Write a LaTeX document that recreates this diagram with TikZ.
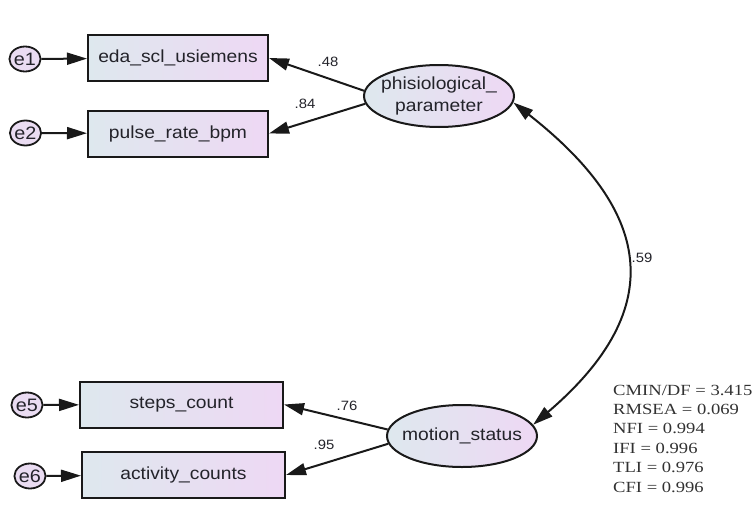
\documentclass[tikz,border=0pt]{standalone}
\usepackage{fontspec}
\setmainfont{Liberation Sans}
\newfontfamily\amos[FakeStretch=1.1]{Liberation Sans}
\newfontfamily\fitfont[FakeStretch=1.2]{Liberation Serif}
\usetikzlibrary{arrows.meta,shapes.geometric}
\definecolor{gl}{RGB}{222,232,238}
\definecolor{gr}{RGB}{238,216,244}
\definecolor{efill}{RGB}{234,220,242}
\definecolor{ink}{RGB}{25,25,25}
\definecolor{txt}{RGB}{35,35,42}
\definecolor{fittxt}{RGB}{50,50,50}
\begin{document}
\begin{tikzpicture}[x=1pt,y=-1pt,
  obs/.style={draw=ink, line width=2pt, left color=gl, right color=gr,
    minimum height=46pt, inner sep=0pt,
    font=\amos\fontsize{17.5}{20}\selectfont, text=txt},
  lat/.style={ellipse, draw=ink, line width=2pt, left color=gl, right color=gr,
    minimum width=150pt, minimum height=62pt, inner sep=0pt},
  lattxt/.style={font=\amos\fontsize{17.5}{22}\selectfont, text=txt, align=center, inner sep=0pt},
  err/.style={ellipse, draw=ink, line width=1.8pt, fill=efill,
    minimum width=31pt, minimum height=25pt, inner sep=0pt,
    font=\amos\fontsize{18}{20}\selectfont, text=txt},
  coef/.style={font=\amos\fontsize{13.5}{15}\selectfont, text=txt, inner sep=0pt},
  fit/.style={font=\fitfont\fontsize{15.5}{19}\selectfont, text=fittxt, inner sep=0pt, anchor=base west},
  arr/.style={line width=2pt, draw=ink, -{Triangle[length=20pt,width=12pt]}},
  darr/.style={line width=2pt, draw=ink, {Triangle[length=20pt,width=12pt]}-{Triangle[length=20pt,width=12pt]}}
]
\useasboundingbox (0,0) rectangle (752,506);

% observed variables
\node[obs, minimum width=180pt] (eda) at (178,58) {eda\_scl\_usiemens};
\node[obs, minimum width=180pt] (pulse) at (178,133.5) {pulse\_rate\_bpm};
\node[obs, minimum width=203pt] (steps) at (181.5,404.5) {steps\_count};
\node[obs, minimum width=203pt] (act) at (183.5,475) {activity\_counts};

% error terms
\node[err] (e1) at (25,59) {e1};
\node[err] (e2) at (25.5,133) {e2};
\node[err] (e5) at (27,405) {e5};
\node[err] (e6) at (30,476) {e6};

% latent variables
\node[lat] (phys) at (439,96) {};
\node[lattxt] (physl) at (phys.center) {phisiological\_\\parameter};
\node[lat] (mot) at (462,436) {};
\node[lattxt] (motl) at (mot.center) {motion\_status};

% error arrows
\draw[arr] (e1) -- (eda);
\draw[arr] (e2) -- (pulse);
\draw[arr] (e5) -- (steps);
\draw[arr] (e6) -- (act);

% loadings
\draw[arr] (phys.176) -- (eda.east);
\draw[arr] (phys.186) -- (pulse.east);
\draw[arr] (mot.175) -- (steps.east);
\draw[arr] (mot.186) -- (act.east);

% covariance
\draw[darr] (phys.-5) .. controls (649,209) and (672,306) .. (mot.9);

% coefficient labels
\node[coef] (c48) at (328,62) {.48};
\node[coef] (c84) at (305,104) {.84};
\node[coef] (c76) at (347,406) {.76};
\node[coef] (c95) at (324,445) {.95};
\node[coef] (c59) at (642,258) {.59};

% fit statistics
\node[fit] (f1) at (613,395) {CMIN/DF = 3.415};
\node[fit] (f2) at (613,414.4) {RMSEA = 0.069};
\node[fit] (f3) at (613,433.8) {NFI = 0.994};
\node[fit] (f4) at (613,453.2) {IFI = 0.996};
\node[fit] (f5) at (613,472.6) {TLI = 0.976};
\node[fit] (f6) at (613,492) {CFI = 0.996};
\end{tikzpicture}
\end{document}
